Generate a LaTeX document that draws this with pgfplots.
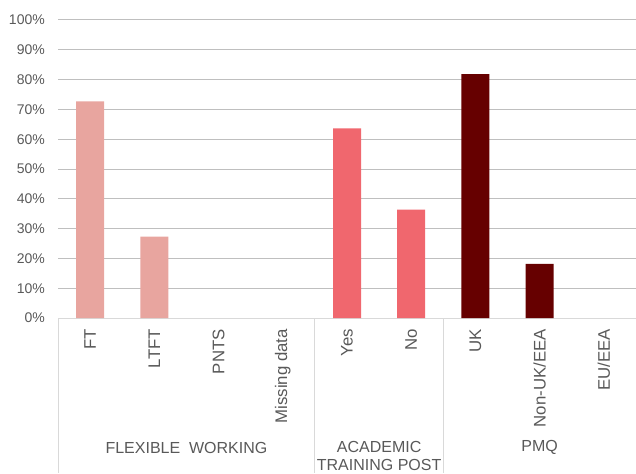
\documentclass[border=0pt]{standalone}
\usepackage{fontspec}
\setmainfont{Liberation Sans}
\usepackage{pgfplots}
\pgfplotsset{compat=1.18}
\definecolor{txt}{HTML}{595959}
\definecolor{grid}{HTML}{D9D9D9}
\definecolor{cA}{HTML}{E8A59F}
\definecolor{cB}{HTML}{F0676E}
\definecolor{cC}{HTML}{660000}
\begin{document}
\begin{tikzpicture}
\begin{axis}[
  scale only axis,
  width=578pt, height=298pt,
  xmin=-0.5, xmax=8.5,
  ymin=0, ymax=100,
  axis lines*=left,
  y axis line style={draw=none},
  x axis line style={grid, line width=1pt, -},
  ytick={0,10,...,100},
  ymajorgrids=true, xmajorgrids=false,
  major grid style={grid, line width=1pt},
  major tick length=0pt,
  xtick={0,...,8},
  xticklabels={FT,LTFT,PNTS,Missing data,Yes,No,UK,Non-UK/EEA,EU/EEA},
  x tick label style={rotate=90, anchor=east, inner sep=0pt, font=\fontsize{16.8}{18}\selectfont, text=txt},
  xticklabel shift=11pt,
  /pgf/number format/assume math mode=true,
  yticklabel={\pgfmathprintnumber{\tick}\%},
  y tick label style={anchor=east, inner sep=0pt, font=\fontsize{14}{16}\selectfont, text=txt},
  yticklabel shift=13pt,
  ybar, bar width=28pt,
  every axis plot/.append style={bar shift=0pt, draw=none},
  clip=false,
]
\addplot[fill=cA, draw=none] coordinates {(0,72.7) (1,27.3)};
\addplot[fill=cB, draw=none] coordinates {(4,63.6) (5,36.4)};
\addplot[fill=cC, draw=none] coordinates {(6,81.8) (7,18.2)};
\coordinate (bl) at (rel axis cs:0,0);
\coordinate (tr) at (rel axis cs:1,1);
\draw[grid, line width=1pt] (axis cs:-0.5,0) -- ++(0pt,-155pt);
\draw[grid, line width=1pt] (axis cs:3.5,0) -- ++(0pt,-155pt);
\draw[grid, line width=1pt] (axis cs:5.5,0) -- ++(0pt,-155pt);
\node[text=txt, font=\fontsize{16}{18}\selectfont, inner sep=0pt] at ([yshift=-129.5pt]axis cs:1.5,0) {FLEXIBLE\ \ WORKING};
\node[text=txt, font=\fontsize{16}{18}\selectfont, inner sep=0pt, align=center] at ([yshift=-138pt]axis cs:4.5,0) {ACADEMIC\\TRAINING POST};
\node[text=txt, font=\fontsize{16}{18}\selectfont, inner sep=0pt] at ([yshift=-129.5pt]axis cs:7,0) {PMQ};
\end{axis}
\pgfresetboundingbox
\path[use as bounding box] ([shift={(-58pt,-155pt)}]bl) rectangle ([shift={(0pt,20pt)}]tr);
\end{tikzpicture}
\end{document}
